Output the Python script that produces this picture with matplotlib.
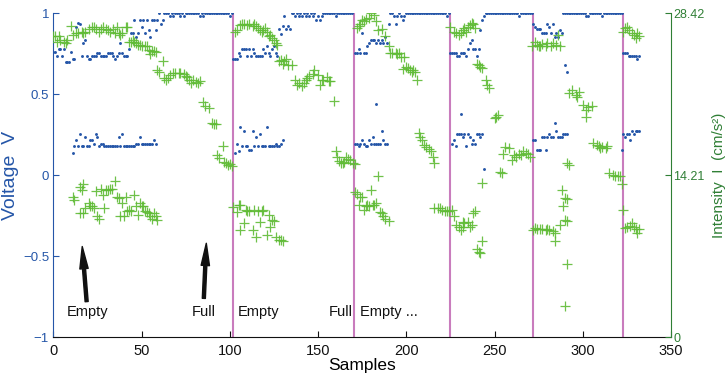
import numpy as np
import matplotlib
matplotlib.use("Agg")
import matplotlib.pyplot as plt

plt.rcParams['font.family'] = ['Liberation Sans', 'DejaVu Sans']

BLUE = '#2556a8'
GREEN_TXT = '#2f7f35'
GREEN_PT = '#5fbb35'
MAGENTA = '#c97cbd'

# --- voltage (blue dots), one point per sample, by section ---
# upper band: (first sample, values)
v1_start, v1_hi = 0, [
    .76, .76, .735, .78, .78, .735, .78, .70, .70, .70,
    .76, .72, .72, .915, .94, .935, .735, .815, .835, .735,
    .72, .72, .735, .735, .735, .755, .755, .735, .735, .735,
    .735, .755, .755, .755, .735, .72, .735, .755, .815, .755,
    .735, .735, .735, .78, .875, .875, .955, .855, .875, .955,
    .915, .955, .875, .955, .895, .855, .955, .955, .895, .955,
    1, .935, .955, 1,
    1, 1, .98, 1, .98, 1, 1, 1, .98, 1, .98,
    1, 1, 1, 1, 1, 1, 1, 1, .98, 1, .98,
    1, 1, 1, 1, 1, 1, 1, 1, 1, 1, 1, 1, 1, 1, .98, 1]
v2_start, v2_hi = 102, [
    .72, .72, .72, .755, .735, .78, .78, .78, .735, .78,
    .735, .78, .755, .735, .735, .735, .735, .78, .755, .795,
    .755, .735, .78, .795, .755, .735, .90, .87, .92, .98,
    .90, .92, .90,
    1, 1, .98, 1, .98, 1, .98, 1, .98, 1, .98, 1, .98, 1, .955, .98,
    .955, .98, 1, 1, 1, 1, 1, 1, 1, .98, 1, 1, 1, 1, 1, 1, 1, 1, 1]
v3_start, v3_hi = 171, [
    .755, .755, .78, .755, .875, .755, .755, .80, .815, .835,
    .835, .835, .815, .835, .815, .835, .815, .855, .815, .935,
    1, 1, .98, .935, .98, 1, .98, .955, .98, 1,
    1, 1, 1, 1, 1, 1, 1, 1, 1, 1, 1, 1, 1, 1, 1, 1, 1, 1, 1, 1, 1, 1, .98, 1]
v4_start, v4_hi = 225, [
    .755, .755, .755, .755, .735, .735, .755, .755, .755, .735,
    .78, .815, .835, .78, .78, .735, .78, .895, .955, .98,
    1, 1, 1, 1, 1, 1, 1, 1, 1, 1, 1, 1, 1, 1, 1, 1, 1, 1, 1, .98,
    1, 1, 1, 1, 1, 1, 1]
v5_start, v5_hi = 272, [
    .935, .915, .90, .90, .90, .875, .875, .875, .935, .915,
    .875, .935, .855, .875, .855, .895, .875,
    1, 1, 1, 1, 1, 1, 1, 1, 1, 1, 1, 1, 1, .98, .98, 1, 1, 1, 1, 1, 1, 1,
    .98, 1, 1, 1, 1, 1, 1, 1, 1, 1, 1, 1]
v6_start, v6_hi = 323, [.755, .755, .755, .735, .735, .735, .735, .735, .715, .735]

# lower band
v1_lo_start, v1_lo = 11, [
    .14, .18, .215, .18, .255, .18, .18, .235, .18, .18,
    .215, .215, .195, .255, .235, .18, .195, .195, .18, .18,
    .18, .18, .18, .18, .18, .18, .235, .18, .255, .18,
    .18, .18, .18, .18, .18, .18, .195, .195, .235, .195,
    .195, .195, .195, .195, .195, .195, .215, .195]
v2_lo_start, v2_lo = 103, [
    .14, .195, .15, .295, .18, .275, .18, .18, .155, .155,
    .275, .18, .235, .18, .255, .18, .18, .18, .295, .18,
    .18, .18, .18, .195, .18, .18, .195, .215]
v3_lo_start, v3_lo = 171, [
    .195, .195, .18, .195, .215, .195, .18, .18, .215, .195,
    .235, .195, .195, .195, .195, .275, .215, .195, .195]
v4_lo_start, v4_lo = 226, [
    .195, .215, .18, .255, .255, .255, .235, .255, .18, .255,
    .235, .195, .215, .195, .255, .255, .235, .255]
v5_lo_start, v5_lo = 272, [
    .215, .215, .155, .155, .155, .235, .235, .155, .235, .255,
    .235, .235, .32, .275, .235, .235, .235, .255, .255, .255]
v6_lo_start, v6_lo = 323, [.255, .235, .255, .255, .215, .275, .255, .275, .275, .275]

# stray voltage samples
v_odd_s = [183, 231, 244, 290, 291, 322.5]
v_odd_v = [.44, .375, .037, .68, .64, .155]

# --- intensity (green +), cm/s^2 ---
g1_s = [0, 1, 2, 3, 4, 6, 7, 8, 10, 11, 13, 14, 16, 17, 18, 20, 22, 23, 24, 26,
        27, 28, 30, 31, 32, 34, 35, 36, 37, 38, 39, 41, 42, 43, 44, 45, 46, 47, 48, 49,
        50, 52, 53, 54, 55, 56, 57, 58, 59, 60, 62, 63, 64, 65, 66, 68, 69, 71, 72, 74,
        75, 76, 77, 78, 79, 81, 82, 83, 85, 86, 88, 90, 91, 92, 93, 94, 96, 97, 98, 99,
        100, 101,
        11, 12, 15, 16, 17, 15, 17, 18, 20, 21, 22, 23, 24, 25, 26, 27, 28, 29, 30, 31,
        32, 33, 35, 36, 37, 38, 39, 40, 41, 42, 43, 44, 46, 47, 48, 49, 50, 51, 52, 53,
        54, 55, 56, 57, 58, 59]
g1_v = [26.4, 26.4, 25.9, 26.4, 26.1, 25.9, 25.8, 26.1, 27.3, 26.5, 26.7, 26.7, 26.8, 26.7, 26.8, 27.0, 27.2, 27.2, 27.0, 26.8,
        27.0, 27.2, 27.0, 26.9, 26.8, 27.0, 26.7, 27.2, 26.7, 26.5, 26.7, 27.2, 27.2, 25.9, 25.9, 26.1, 25.9, 25.8, 25.6, 25.6,
        25.5, 25.5, 25.5, 25.2, 24.8, 25.1, 25.1, 25.0, 23.4, 23.3, 24.2, 22.7, 22.6, 22.7, 23.0, 23.2, 23.2, 23.2, 23.2, 23.1,
        22.9, 22.8, 22.6, 22.3, 22.6, 22.4, 22.3, 22.5, 20.6, 20.3, 20.1, 18.8, 18.7, 18.7, 16.0, 15.7, 16.8, 15.4, 15.3, 15.1,
        15.2, 15.0,
        12.3, 12.0, 13.2, 12.9, 13.4, 10.9, 10.9, 11.3, 11.8, 11.5, 11.5, 11.3, 12.8, 10.6, 10.4, 13.0, 12.5, 11.3, 12.9, 12.9,
        13.0, 13.0, 13.7, 12.3, 12.2, 10.6, 11.8, 10.6, 12.3, 11.1, 11.2, 11.1, 12.5, 11.5, 10.7, 11.8, 11.5, 11.5, 11.1, 11.0,
        10.9, 10.6, 10.4, 10.9, 10.6, 10.3]

g2_s = [103, 104, 106, 107, 108, 110, 111, 113, 114, 115, 116, 117, 118, 119, 120, 121, 122, 123, 124, 125,
        126, 127, 128, 129, 130, 131, 132, 133, 135, 137, 138, 139, 141, 142, 143, 144, 145, 147, 148, 150,
        151, 152, 153, 155, 156, 157, 159, 160, 161, 162, 163, 164, 165, 166, 167, 168, 170, 171,
        102, 104, 105, 106, 106, 108, 109, 110, 111, 113, 114, 115, 116, 117, 118, 119, 121, 122, 123, 124,
        125, 126, 128, 129, 130]
g2_v = [26.8, 26.95, 27.4, 27.5, 27.5, 27.4, 27.5, 27.3, 27.5, 27.3, 27.1, 26.95, 26.8, 26.95, 27.1, 26.8, 26.4, 26.5, 26.2, 26.1,
        25.8, 25.6, 24.2, 24.3, 24.0, 24.2, 24.4, 23.9, 23.9, 22.6, 22.1, 22.3, 22.0, 22.3, 22.6, 22.7, 22.9, 23.1, 23.4, 23.0,
        22.1, 22.6, 22.6, 22.8, 22.5, 22.5, 20.7, 16.3, 15.8, 15.5, 15.3, 15.3, 15.4, 15.8, 15.6, 15.55, 15.3, 15.2,
        11.45, 11.0, 11.6, 9.4, 11.6, 10.0, 11.2, 11.1, 11.1, 9.4, 11.2, 8.8, 11.1, 10.1, 11.1, 11.2, 9.0, 10.7, 9.7, 10.3,
        10.2, 8.8, 8.5, 8.5, 8.4]

g3_s = [172, 173, 174, 175, 176, 177, 179, 180, 182, 183, 184, 186, 188, 190, 191, 192, 194, 195, 196, 197,
        198, 199, 200, 201, 202, 203, 204, 205, 206, 207, 208, 209, 210, 211, 213, 214, 215, 216,
        171, 172, 173, 174, 175, 176, 177, 178, 179, 180, 181, 182, 183, 184, 185, 186, 187, 188, 190]
g3_v = [27.1, 27.3, 27.5, 27.8, 27.7, 27.9, 28.0, 28.4, 28.3, 27.7, 26.95, 27.0, 26.4, 25.5, 24.96, 24.9, 24.96, 24.8, 24.9, 24.6,
        23.5, 24.6, 23.7, 23.6, 23.4, 23.3, 23.4, 23.3, 22.6, 17.9, 17.6, 17.3, 16.9, 16.7, 16.5, 16.3, 15.8, 15.3,
        12.7, 12.6, 11.6, 12.3, 12.3, 11.2, 11.5, 11.6, 11.5, 12.9, 11.6, 11.6, 11.75, 14.15, 11.0, 10.9, 10.6, 10.35, 10.2]

g4_s = [225, 227, 228, 230, 231, 232, 233, 234, 235, 236, 237, 238, 239, 240, 241, 242, 243, 245, 246, 247,
        250, 251, 252, 243, 253, 254, 255, 256, 258, 260, 261, 262, 264, 265, 266, 268, 269, 270,
        216, 218, 219, 220, 222, 223, 224, 226, 227, 228, 230, 231, 232, 232, 233, 235, 236, 237, 238, 239,
        240, 241, 242, 243]
g4_v = [27.2, 26.8, 26.7, 26.5, 26.7, 26.95, 27.1, 26.8, 27.2, 27.4, 27.6, 27.5, 27.1, 24.0, 23.9, 23.7, 23.6, 22.6, 22.1, 21.9,
        19.2, 19.35, 19.5, 13.5, 14.5, 14.4, 16.1, 16.7, 16.6, 15.55, 16.0, 15.8, 16.1, 16.0, 16.3, 16.2, 16.1, 15.8,
        11.3, 11.3, 11.3, 11.2, 11.1, 11.1, 11.1, 11.2, 10.6, 9.85, 9.65, 9.4, 9.65, 10.1, 10.05, 10.1, 9.65, 9.85, 10.9, 11.1,
        7.7, 7.5, 7.4, 8.4]

g5_s = [271, 273, 274, 275, 276, 277, 279, 280, 282, 283, 285, 286, 287, 292, 294, 296, 297, 298, 300, 302,
        302, 303, 305, 306, 308, 309, 310, 311, 313, 314, 315, 317, 318, 320, 321, 322,
        272, 273, 274, 276, 277, 279, 280, 281, 283, 284, 284, 287, 288, 289, 290, 291, 290, 291, 291, 290,
        292, 291]
g5_v = [25.5, 25.9, 25.6, 25.5, 25.55, 25.7, 25.5, 25.8, 25.5, 25.8, 25.6, 26.5, 25.55, 21.4, 21.7, 21.25, 21.1, 21.5, 20.4, 19.9,
        19.35, 20.2, 20.3, 17.0, 16.9, 16.8, 16.6, 16.7, 16.6, 16.8, 14.4, 14.2, 14.1, 14.15, 14.1, 13.4,
        9.4, 9.55, 9.5, 9.5, 9.5, 9.4, 9.5, 9.4, 9.35, 9.1, 8.4, 9.85, 12.9, 11.5, 12.2, 12.1, 10.3, 10.2, 6.4, 2.75,
        15.1, 15.3]

g6_s = [323, 324, 325, 326, 328, 329, 330, 331, 332,
        323, 324, 325, 327, 328, 329, 330, 331, 332]
g6_v = [26.8, 27.1, 27.2, 26.95, 26.7, 26.5, 26.2, 26.7, 26.4,
        11.2, 9.6, 9.7, 9.8, 10.0, 9.7, 9.5, 9.1, 9.5]

# event markers and labels
event_s = [101.8, 170.5, 225, 271.7, 322.6]
label_s = [7.6, 78.3, 104.6, 156, 174]
label_txt = ['Empty', 'Full', 'Empty', 'Full', 'Empty ...']
I_MAX = 28.42

fig = plt.figure(figsize=(7.25, 3.76), dpi=100)
ax1 = fig.add_axes([0.0735, 0.103, 0.852, 0.862])
ax2 = ax1.twinx()

# blue voltage dots
for start, vals in [(v1_start, v1_hi), (v2_start, v2_hi), (v3_start, v3_hi), (v4_start, v4_hi),
                    (v5_start, v5_hi), (v6_start, v6_hi), (v1_lo_start, v1_lo), (v2_lo_start, v2_lo),
                    (v3_lo_start, v3_lo), (v4_lo_start, v4_lo), (v5_lo_start, v5_lo), (v6_lo_start, v6_lo)]:
    ax1.plot(np.arange(start, start + len(vals)), vals, '.', color=BLUE, ms=4.2, mew=0)
ax1.plot(v_odd_s, v_odd_v, '.', color=BLUE, ms=4.2, mew=0)

for s in event_s:
    ax1.axvline(s, ymin=0, ymax=1, color=MAGENTA, lw=1.5, zorder=1)

# green intensity markers
for gs, gv in [(g1_s, g1_v), (g2_s, g2_v), (g3_s, g3_v), (g4_s, g4_v), (g5_s, g5_v), (g6_s, g6_v)]:
    ax2.plot(gs, gv, '+', color=GREEN_PT, ms=6.5, mew=0.9, alpha=0.9)

# annotations
for s, t in zip(label_s, label_txt):
    ax1.text(s, -0.845, t, fontsize=10.5, ha='left', va='center', color='#111111')
ax1.annotate('', xy=(16.4, -0.44), xytext=(18.9, -0.78),
             arrowprops=dict(facecolor='#111111', edgecolor='#111111', width=2.2, headwidth=6, headlength=16))
ax1.annotate('', xy=(86.7, -0.42), xytext=(85.3, -0.76),
             arrowprops=dict(facecolor='#111111', edgecolor='#111111', width=2.2, headwidth=6, headlength=16))

# axes styling
ax1.set_xlim(0, 350)
ax1.set_ylim(-1, 1)
ax2.set_ylim(0, I_MAX)
ax1.set_xticks(np.arange(0, 351, 50))
ax1.set_yticks([-1, -0.5, 0, 0.5, 1])
ax1.set_yticklabels(['\u22121', '\u22120.5', '0', '0.5', '1'])
ax2.set_yticks([0, 14.21, 28.42])
ax2.set_yticklabels(['0', '14.21', '28.42'])

ax1.tick_params(axis='x', direction='in', length=4, labelsize=10.5, colors='#111111', pad=5)
ax1.tick_params(axis='y', direction='in', length=4, labelsize=9.5, colors=BLUE, pad=3)
ax2.tick_params(axis='y', direction='in', length=4, labelsize=9, colors=GREEN_TXT, pad=1.5)

for ax in (ax1, ax2):
    ax.spines['top'].set_visible(False)
ax1.spines['left'].set_color(BLUE)
ax1.spines['right'].set_visible(False)
ax2.spines['left'].set_visible(False)
ax2.spines['right'].set_color(GREEN_TXT)
ax2.spines['bottom'].set_visible(False)
ax1.spines['bottom'].set_color('#111111')

ax1.set_xlabel('Samples', fontsize=12.5, labelpad=0)
ax1.set_ylabel('Voltage  V', fontsize=14, color=BLUE)
ax1.yaxis.set_label_coords(-0.056, 0.5)
ax2.set_ylabel('Intensity  I  (cm/s\u00b2)', fontsize=11, color=GREEN_TXT)
ax2.yaxis.set_label_coords(1.066, 0.5)

fig.savefig('out.png', dpi=100)
